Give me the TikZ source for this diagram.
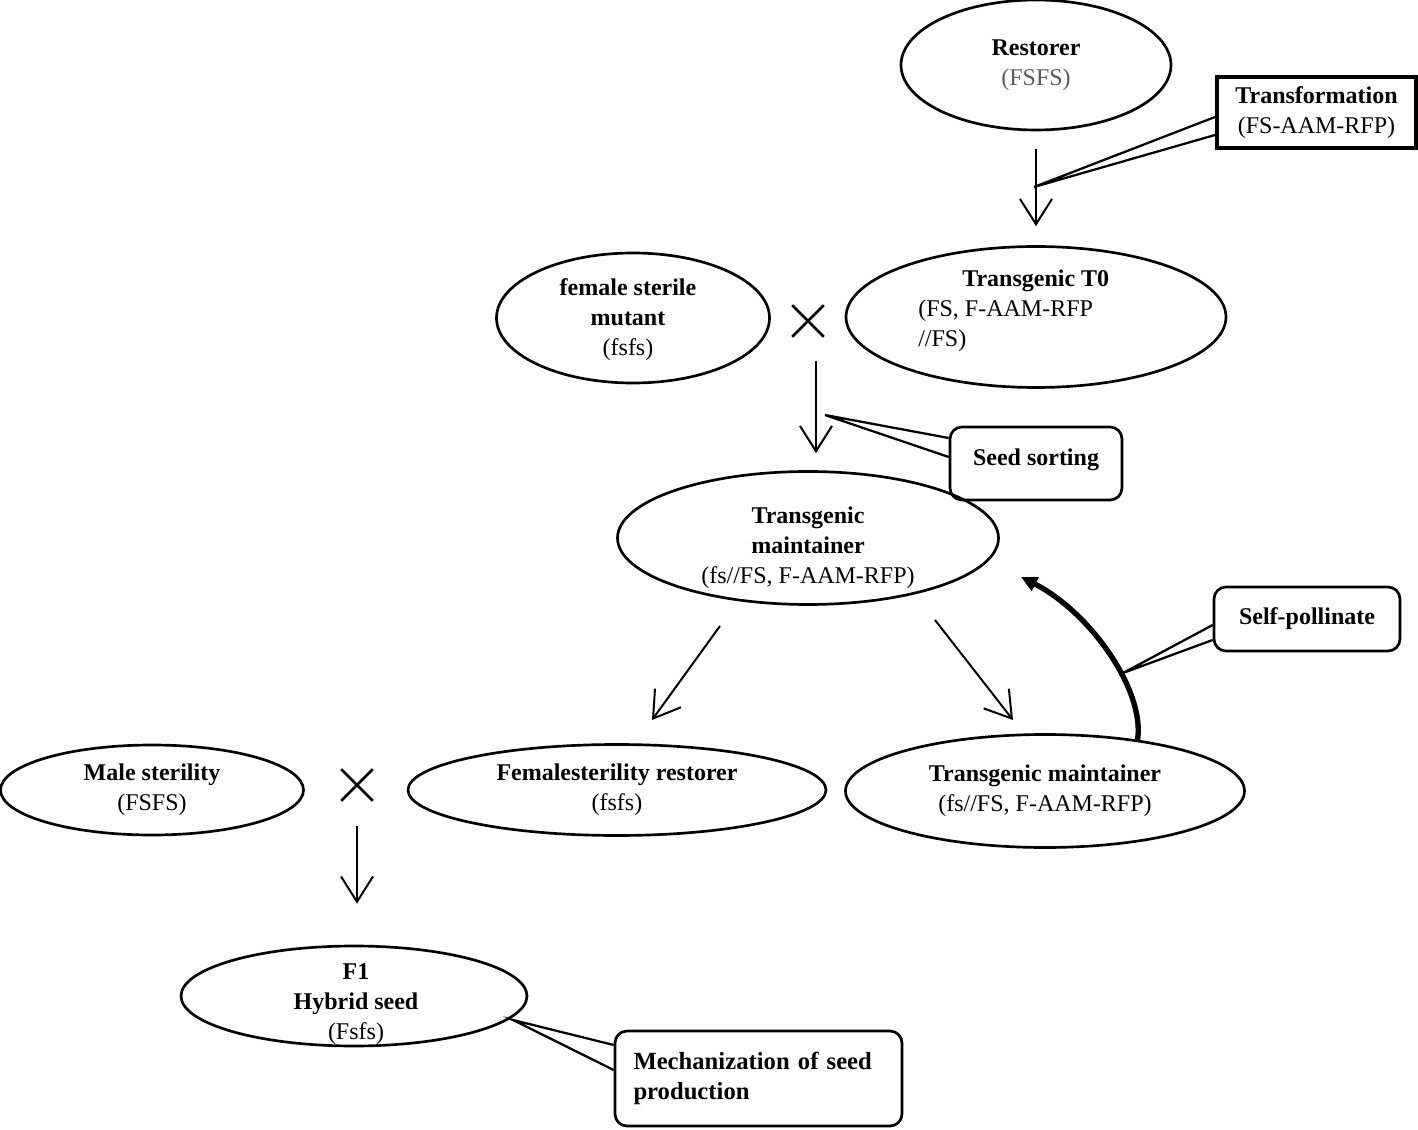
\documentclass[tikz,border=0pt]{standalone}
\usepackage{fontspec}
\setmainfont{Liberation Serif}
\usetikzlibrary{shapes.geometric,arrows.meta,calc}
\begin{document}
\begin{tikzpicture}[x=0.75pt,y=-0.75pt,
  txt/.style={font=\fontsize{18}{22.5}\selectfont,align=center,inner sep=0pt},
  ell/.style 2 args={ellipse,draw,line width=2pt,inner sep=0pt,align=center,
     font=\fontsize{18}{22.5}\selectfont,minimum width=#1*0.75pt,minimum height=#2*0.75pt},
  sqbox/.style 2 args={rectangle,draw,line width=3pt,inner sep=0pt,align=center,
     font=\fontsize{18}{22.5}\selectfont,minimum width=#1*0.75pt,minimum height=#2*0.75pt},
  rbox/.style 2 args={rectangle,rounded corners=9pt,draw,line width=2pt,inner sep=0pt,align=center,
     font=\fontsize{18}{22.5}\selectfont,minimum width=#1*0.75pt,minimum height=#2*0.75pt},
  arr/.style={line width=1.5pt,-{Straight Barb[length=19pt,width=24pt]}},
  wedge/.style={line width=1.7pt,line join=miter},
  crossline/.style={line width=2pt}
]
\useasboundingbox (0,0) rectangle (1418,1130);

% ellipses
\node[ell={270}{130}] (rest) at (1036,65) {\textbf{Restorer}\\{\color{black!65}(FSFS)}};
\node[ell={380}{141}] (t0) at (1036,317) {};
\node[txt,align=left,anchor=north west] (t0t) at (918,270) {\hspace*{44\dimexpr0.75pt\relax}\textbf{Transgenic T0}\\(FS, F-AAM-RFP\\//FS)};
\node[ell={273}{130}] (fsm) at (633,318) {};
\node[txt] (fsmt) at (628,320) {\textbf{female sterile}\\\textbf{mutant}\\(fsfs)};
\node[ell={381}{133}] (mm) at (808,538) {};
\node[txt] (mmt) at (808,548) {\textbf{Transgenic}\\\textbf{maintainer}\\(fs//FS, F-AAM-RFP)};
\node[ell={303}{90}] (ms) at (152,790) {\textbf{Male sterility}\\(FSFS)};
\node[ell={418}{91}] (fr) at (617,790) {\textbf{Femalesterility restorer}\\(fsfs)};
\node[ell={399}{113}] (rm) at (1045,791) {\textbf{Transgenic maintainer}\\(fs//FS, F-AAM-RFP)};
\node[ell={346}{100}] (f1) at (354,996) {};
\node[txt] (f1t) at (356,1004) {\textbf{F1}\\\textbf{Hybrid seed}\\(Fsfs)};

% crosses
\node[minimum size=31*0.75pt,inner sep=0pt] (x1) at (808,321) {};
\draw[crossline] (x1.north west) -- (x1.south east) (x1.north east) -- (x1.south west);
\node[minimum size=31*0.75pt,inner sep=0pt] (x2) at (357,785) {};
\draw[crossline] (x2.north west) -- (x2.south east) (x2.north east) -- (x2.south west);

% arrows
\draw[arr,shorten <=18*0.75pt,shorten >=19*0.75pt] (rest.south) -- (t0.north);
\draw[arr,shorten <=24*0.75pt,shorten >=17*0.75pt] ([xshift=8*0.75pt]x1.south) -- ([xshift=8*0.75pt]mm.north);
\draw[arr] ([shift={(-88,88)}]mm.center) -- ([shift={(35,-70)}]fr.center);
\draw[arr] ([shift={(127,82)}]mm.center) -- ([shift={(-32,-71)}]rm.center);
\draw[arr,shorten <=25*0.75pt,shorten >=41*0.75pt] (x2.south) -- (x2.south |- f1.north);

% thick self-pollination arrow
\coordinate (spend) at (1021,577);
\draw[line width=4pt,-{Triangle[length=12pt,width=11pt]}] (rm.29) .. controls (1145,690) and (1090,612) .. (spend);

% callout boxes
\node[sqbox={199}{71}] (tb) at (1316.5,112.5) {\textbf{Transformation}\\(FS-AAM-RFP)};
\coordinate (tp) at (1034,187);
\draw[wedge] ([yshift=-4.5*0.75pt]tb.west) -- (tp) -- ([yshift=-22.5*0.75pt]tb.west);

\node[rbox={172}{73}] (ss) at (1036,463.5) {\raisebox{10pt}{\textbf{Seed sorting}}};
\coordinate (sp1) at (825,415);
\draw[wedge] ([yshift=25.5*0.75pt]ss.west) -- (sp1) -- ([yshift=6.5*0.75pt]ss.west);

\node[rbox={186}{64}] (sp) at (1307,619) {\raisebox{3pt}{\textbf{Self-pollinate}}};
\coordinate (sp2) at (1123,673);
\draw[wedge] ([yshift=-6*0.75pt]sp.west) -- (sp2) -- ([yshift=-21*0.75pt]sp.west);

\node[rbox={287}{95},align=left,text width=250*0.75pt,font=\fontsize{18.5}{22.5}\selectfont] (mp) at (758.5,1078.5) {\textbf{Mechanization of seed}\\\textbf{production}\\[4pt]};
\coordinate (sp3) at (513,1020);
\draw[wedge] ([yshift=33.5*0.75pt]mp.west) -- (sp3) -- ([yshift=8.5*0.75pt]mp.west);
\end{tikzpicture}
\end{document}
